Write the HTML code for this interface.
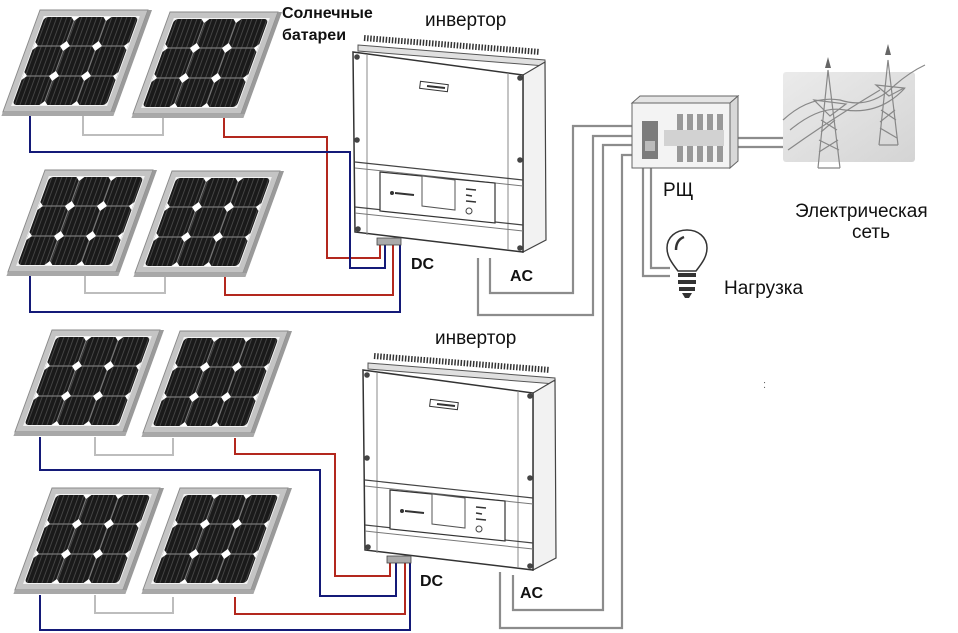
<!DOCTYPE html>
<html><head><meta charset="utf-8"><style>
html,body{margin:0;padding:0;background:#fff;}
svg{display:block;}
text{font-family:"Liberation Sans",sans-serif;}
</style></head><body>
<svg width="958" height="633" viewBox="0 0 958 633" xmlns="http://www.w3.org/2000/svg">
<defs>
  <pattern id="cellp" width="5" height="100" patternUnits="userSpaceOnUse">
    <rect width="5" height="100" fill="#1a1a1a"/>
    <rect x="4" width="1" height="100" fill="#454545"/>
  </pattern>
  <g id="panel">
    <rect x="0" y="0" width="108" height="102" fill="#c4c4c4" stroke="#8a8a8a" stroke-width="1"/>
    <rect x="108" y="0" width="4" height="102" fill="#9a9a9a"/>
    <rect x="0" y="102" width="112" height="4" fill="#a8a8a8"/>
    <rect x="6" y="6" width="96" height="90" fill="#f2f2f2"/>
    <rect x="7" y="7" width="94" height="88" rx="4" fill="url(#cellp)"/>
    <g stroke="#777" stroke-width="1.2">
      <line x1="7" y1="36" x2="101" y2="36"/><line x1="7" y1="66" x2="101" y2="66"/>
      <line x1="38" y1="7" x2="38" y2="95"/><line x1="70" y1="7" x2="70" y2="95"/>
    </g>
    <g fill="#fff">
      <path d="M38 31 L43 36 L38 41 L33 36 Z"/><path d="M70 31 L75 36 L70 41 L65 36 Z"/>
      <path d="M38 61 L43 66 L38 71 L33 66 Z"/><path d="M70 61 L75 66 L70 71 L65 66 Z"/>
      <path d="M7 32 L11 36 L7 40 Z"/><path d="M101 32 L97 36 L101 40 Z"/>
      <path d="M7 62 L11 66 L7 70 Z"/><path d="M101 62 L97 66 L101 70 Z"/>
      <path d="M34 7 L38 11 L42 7 Z"/><path d="M66 7 L70 11 L74 7 Z"/>
      <path d="M34 95 L38 91 L42 95 Z"/><path d="M66 95 L70 91 L74 95 Z"/>
    </g>
  </g>
  <g id="inv">
    <path d="M358 45 L545 60 L545 66 L358 51 Z" fill="#e0e0e0" stroke="#555" stroke-width="1"/>
    <path d="M364 38 L540 52" stroke="#333" stroke-width="6" stroke-dasharray="1.5 1.6"/>
    <path d="M523 75 L545 62 L546 240 L523 252 Z" fill="#f2f2f2" stroke="#444" stroke-width="1.2"/>
    <path d="M353 52 L523 75 L523 252 L355 232 Z" fill="#fff" stroke="#333" stroke-width="1.5"/>
    <line x1="367" y1="55" x2="367" y2="235" stroke="#888" stroke-width="1"/>
    <line x1="508" y1="73" x2="508" y2="250" stroke="#888" stroke-width="1"/>
    <path d="M355 162 L523 180" stroke="#444" stroke-width="1.2"/>
    <path d="M355 168 L523 186" stroke="#777" stroke-width="1"/>
    <path d="M355 207 L523 225" stroke="#444" stroke-width="1.2"/>
    <path d="M355 213 L523 231" stroke="#777" stroke-width="1"/>
    <path d="M380 172 L495 183 L495 223 L380 211 Z" fill="#fff" stroke="#333" stroke-width="1.2"/>
    <path d="M422 176 L455 180 L455 210 L422 206 Z" fill="#fff" stroke="#555" stroke-width="1"/>
    <circle cx="392" cy="193" r="2" fill="#333"/>
    <line x1="395" y1="193" x2="414" y2="195" stroke="#333" stroke-width="2"/>
    <line x1="466" y1="189" x2="476" y2="190" stroke="#333" stroke-width="1.5"/>
    <line x1="466" y1="195" x2="472" y2="196" stroke="#333" stroke-width="1.5"/>
    <line x1="466" y1="201" x2="476" y2="202" stroke="#333" stroke-width="1.5"/>
    <circle cx="469" cy="211" r="3" fill="none" stroke="#444"/>
    <rect x="420" y="83" width="28" height="7" fill="#fff" stroke="#333" transform="rotate(7 434 86)"/>
    <line x1="427" y1="86" x2="445" y2="88" stroke="#333" stroke-width="2"/>
    <g fill="#444"><circle cx="357" cy="57" r="2.8"/><circle cx="520" cy="78" r="2.8"/><circle cx="357" cy="140" r="2.8"/><circle cx="520" cy="160" r="2.8"/><circle cx="358" cy="229" r="2.8"/><circle cx="520" cy="248" r="2.8"/></g>
    <rect x="377" y="238" width="24" height="7" fill="#aaa" stroke="#444" stroke-width="0.8"/>
  </g>
</defs>

<g fill="none" stroke-width="2">
  <path d="M83 113 V135 H163 V115" stroke="#bdbdbd"/>
  <path d="M224 115 V137 H327 V258 H380 V245" stroke="#b3281e"/>
  <path d="M30 113 V152 H350 V268 H385 V245" stroke="#141a78"/>
  <path d="M85 275 V293 H165 V275" stroke="#bdbdbd"/>
  <path d="M225 276 V295 H393 V245" stroke="#b3281e"/>
  <path d="M30 275 V312 H400 V245" stroke="#141a78"/>
  <path d="M95 437 V455 H173 V438" stroke="#bdbdbd"/>
  <path d="M235 438 V454 H335 V576 H390 V563" stroke="#b3281e"/>
  <path d="M40 437 V470 H320 V596 H396 V563" stroke="#141a78"/>
  <path d="M95 595 V613 H173 V597" stroke="#bdbdbd"/>
  <path d="M235 597 V614 H405 V563" stroke="#b3281e"/>
  <path d="M40 595 V630 H410 V563" stroke="#141a78"/>
  <g stroke="#8c8c8c" stroke-width="2.2">
    <path d="M490 258 V293 H573 V126 H634"/>
    <path d="M478 258 V315 H593 V136 H634"/>
    <path d="M513 575 V610 H603 V145 H634"/>
    <path d="M500 572 V628 H622 V155 H634"/>
    <path d="M643 168 V276 H670"/>
    <path d="M651 168 V268 H670"/>
    <path d="M730 138 H785 M730 147 H785"/>
  </g>
</g>

<g transform="translate(40,10) skewX(-20)"><use href="#panel"/></g>
<g transform="translate(170,12) skewX(-20)"><use href="#panel"/></g>
<g transform="translate(45,170) skewX(-20)"><use href="#panel"/></g>
<g transform="translate(172,171) skewX(-20)"><use href="#panel"/></g>
<g transform="translate(52,330) skewX(-20)"><use href="#panel"/></g>
<g transform="translate(180,331) skewX(-20)"><use href="#panel"/></g>
<g transform="translate(52,488) skewX(-20)"><use href="#panel"/></g>
<g transform="translate(180,488) skewX(-20)"><use href="#panel"/></g>

<use href="#inv"/>
<g transform="translate(10,318)"><use href="#inv"/></g>

<path d="M632 103 L640 96 L738 96 L730 103 Z" fill="#e4e4e4" stroke="#666"/>
<path d="M730 103 L738 96 L738 161 L730 168 Z" fill="#d8d8d8" stroke="#666"/>
<rect x="632" y="103" width="98" height="65" fill="#f3f3f3" stroke="#666"/>
<rect x="642" y="121" width="16" height="38" fill="#7c7c7c"/>
<rect x="645" y="141" width="10" height="10" fill="#bbb"/>
<rect x="664" y="130" width="60" height="16" fill="#d2d2d2"/>
<g fill="#999">
  <rect x="677" y="114" width="6" height="16"/><rect x="687" y="114" width="6" height="16"/><rect x="697" y="114" width="6" height="16"/><rect x="707" y="114" width="6" height="16"/><rect x="717" y="114" width="6" height="16"/>
  <rect x="677" y="146" width="6" height="16"/><rect x="687" y="146" width="6" height="16"/><rect x="697" y="146" width="6" height="16"/><rect x="707" y="146" width="6" height="16"/><rect x="717" y="146" width="6" height="16"/>
</g>

<defs><linearGradient id="gg" x1="0" y1="0" x2="1" y2="1"><stop offset="0" stop-color="#ebebeb"/><stop offset="1" stop-color="#d4d4d4"/></linearGradient></defs>
<rect x="783" y="72" width="132" height="90" rx="3" fill="url(#gg)"/>
<g fill="none" stroke="#888" stroke-width="1.2">
  <path d="M783 120 Q810 95 840 100 Q870 110 895 85 Q910 72 925 65"/>
  <path d="M790 130 Q820 105 845 110 Q880 115 905 88"/>
  <path d="M788 150 Q830 120 880 90"/>
  <path d="M828 70 L818 168 M828 70 L840 168 M818 168 L840 168"/>
  <path d="M814 100 L846 104 L830 116 Z"/>
  <path d="M821 120 L837 130 M835 120 L821 132 M819 140 L839 150 M838 140 L819 152"/>
  <path d="M888 60 L879 145 M888 60 L898 145 M879 145 L898 145"/>
  <path d="M876 85 L904 88 L889 96 Z"/>
  <path d="M881 110 L896 120 M895 110 L880 122 M880 128 L897 138"/>
</g>
<path d="M825 68 L828 57 L831 68 Z M885 55 L888 44 L891 55 Z" fill="#666"/>

<path d="M678 271 C671 262 667 256 667 248 C667 237 676 230 687 230 C698 230 707 237 707 248 C707 256 703 262 696 271 Z" fill="#fff" stroke="#333" stroke-width="1.5"/>
<path d="M676 250 Q676 240 684 237" fill="none" stroke="#333" stroke-width="2.5"/>
<rect x="678" y="273" width="18" height="4" fill="#333"/>
<rect x="678" y="280" width="18" height="4" fill="#333"/>
<rect x="679" y="287" width="16" height="4" fill="#333"/>
<path d="M682 293 H692 L689 298 H685 Z" fill="#333"/>

<text x="282" y="18" font-size="16" font-weight="bold" fill="#111">Солнечные</text>
<text x="282" y="40" font-size="16" font-weight="bold" fill="#111">батареи</text>
<text x="425" y="26" font-size="19" fill="#111">инвертор</text>
<text x="435" y="344" font-size="19" fill="#111">инвертор</text>
<text x="411" y="269" font-size="16" font-weight="bold" fill="#111">DC</text>
<text x="510" y="281" font-size="16" font-weight="bold" fill="#111">AC</text>
<text x="420" y="586" font-size="16" font-weight="bold" fill="#111">DC</text>
<text x="520" y="598" font-size="16" font-weight="bold" fill="#111">AC</text>
<text x="663" y="196" font-size="19" fill="#111">РЩ</text>
<text x="795" y="217" font-size="19" fill="#111">Электрическая</text>
<text x="852" y="238" font-size="19" fill="#111">сеть</text>
<text x="724" y="294" font-size="19" fill="#111">Нагрузка</text>
<text x="763" y="388" font-size="11" fill="#666">:</text>
</svg>
</body></html>
